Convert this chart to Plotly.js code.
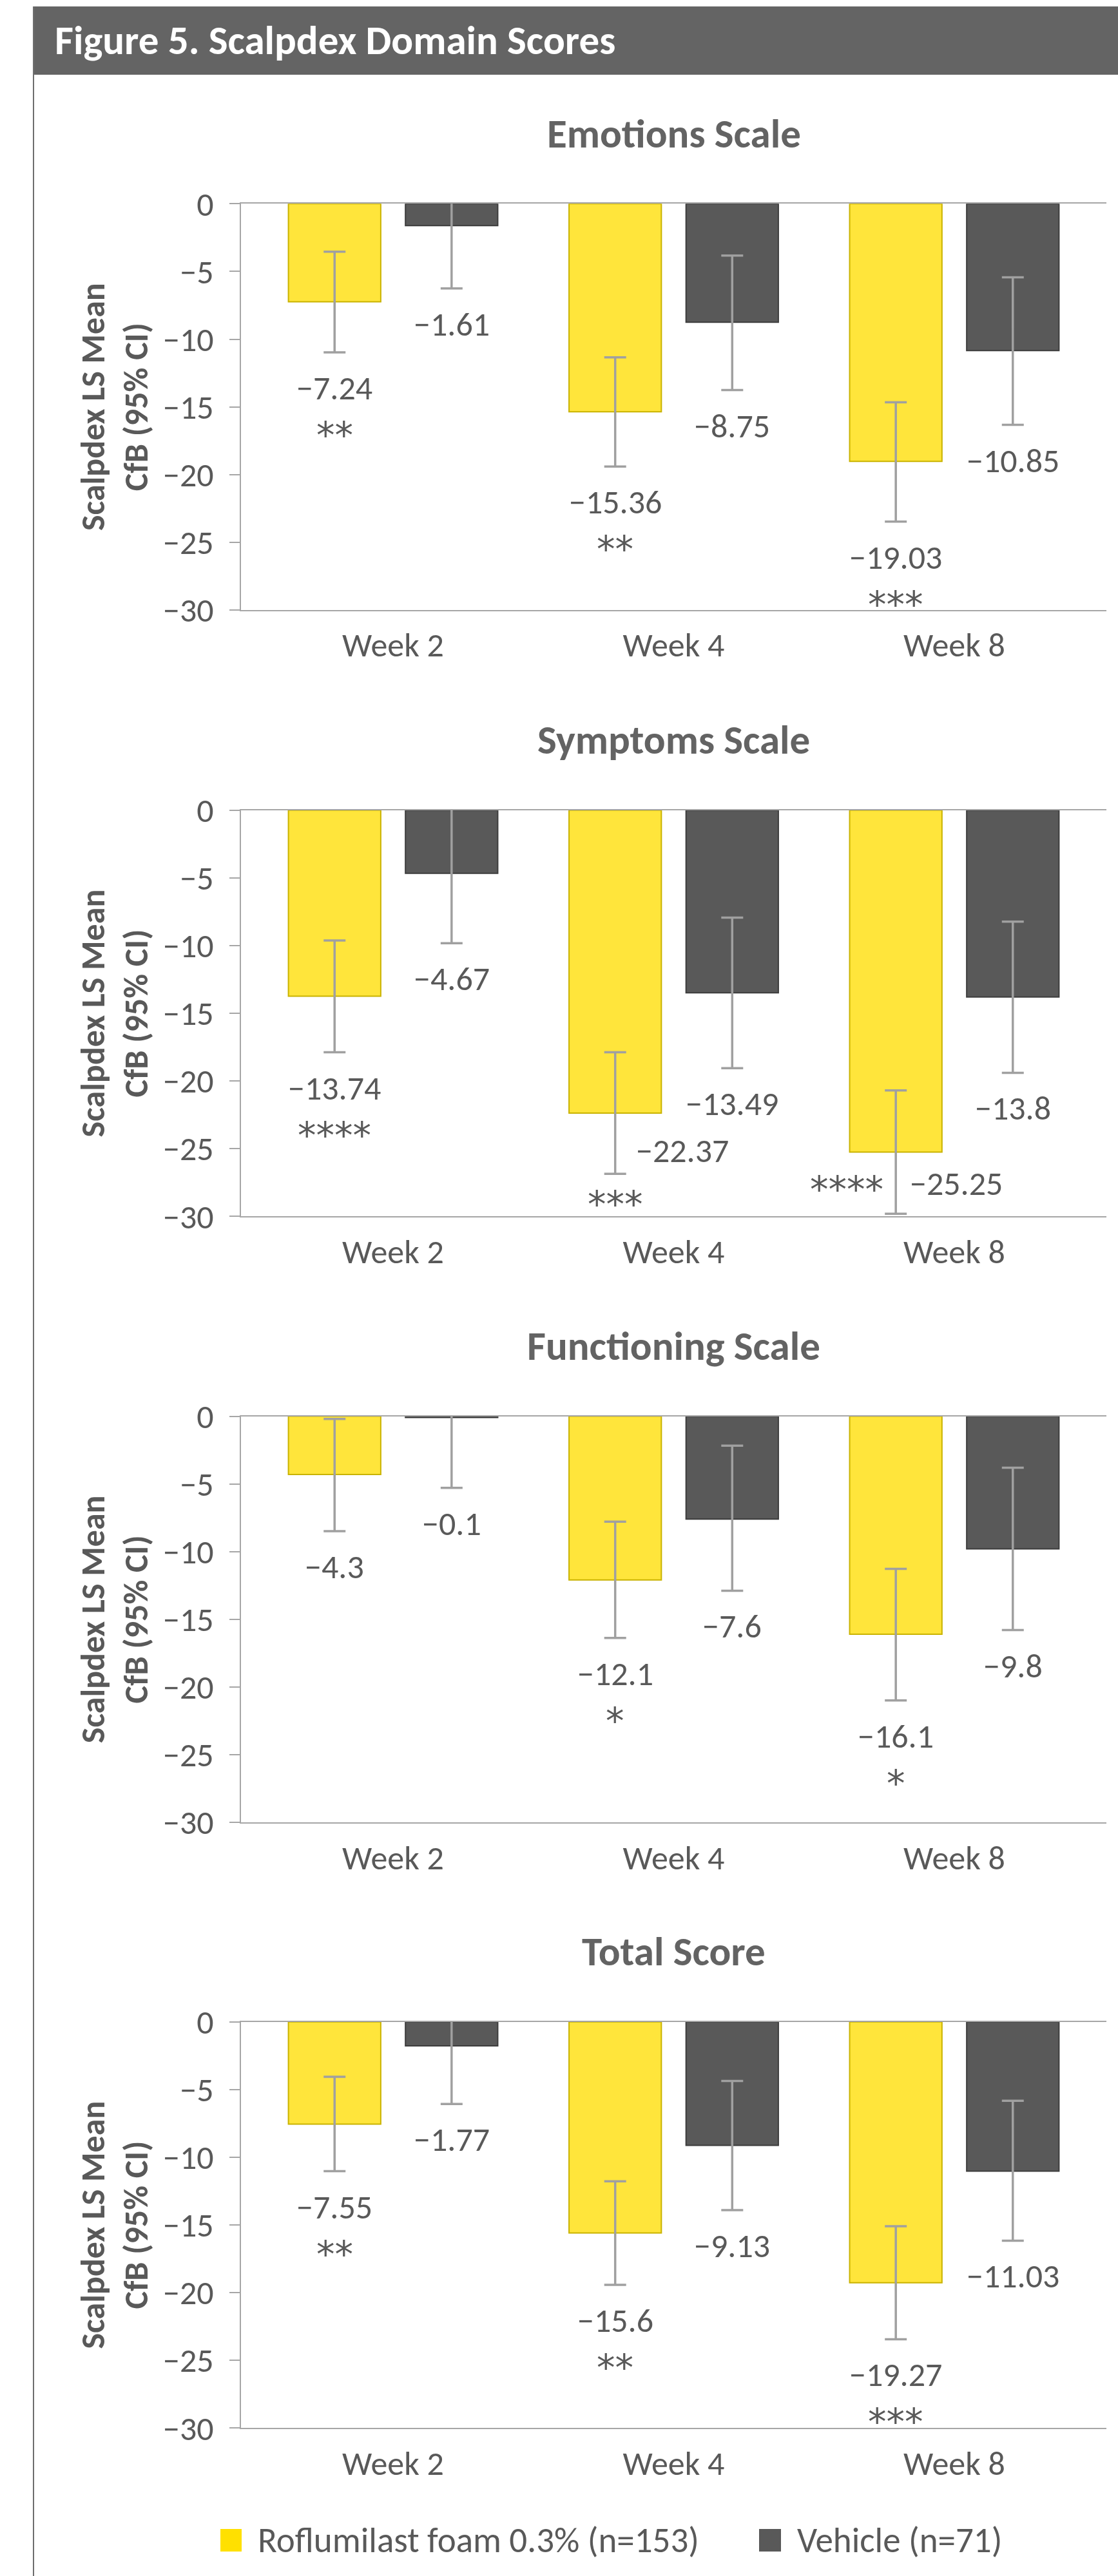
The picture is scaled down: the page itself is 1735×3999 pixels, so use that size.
<!DOCTYPE html>
<html>
<head>
<meta charset="utf-8">
<script src="https://cdn.plot.ly/plotly-3.0.1.min.js"></script>
<style>
  html, body { margin: 0; padding: 0; background: #ffffff; }
  #chart { width: 1735px; height: 3999px; }
</style>
</head>
<body>
<div id="chart"></div>
<script>
// ---------------- DATA ----------------
const categories = ['Week 2', 'Week 4', 'Week 8'];
const panelTitles = ['Emotions Scale', 'Symptoms Scale', 'Functioning Scale', 'Total Score'];
const seriesNames = ['Roflumilast foam 0.3% (n=153)', 'Vehicle (n=71)'];
const yTicks = [0, -5, -10, -15, -20, -25, -30];

// Emotions
const emotionsRof   = [-7.24, -15.36, -19.03];
const emotionsRofLo = [-10.97, -19.41, -23.48];
const emotionsRofHi = [-3.54, -11.34, -14.66];
const emotionsVeh   = [-1.61, -8.75, -10.85];
const emotionsVehLo = [-6.25, -13.76, -16.33];
const emotionsVehHi = [3.03, -3.83, -5.43];
const emotionsStars = ['**', '**', '***'];

// Symptoms
const symptomsRof   = [-13.74, -22.37, -25.25];
const symptomsRofLo = [-17.88, -26.86, -29.81];
const symptomsRofHi = [-9.63, -17.88, -20.70];
const symptomsVeh   = [-4.67, -13.49, -13.8];
const symptomsVehLo = [-9.83, -19.06, -19.40];
const symptomsVehHi = [0.49, -7.94, -8.23];
const symptomsStars = ['****', '***', '****'];

// Functioning
const functioningRof   = [-4.3, -12.1, -16.1];
const functioningRofLo = [-8.49, -16.38, -20.99];
const functioningRofHi = [-0.20, -7.79, -11.28];
const functioningVeh   = [-0.1, -7.6, -9.8];
const functioningVehLo = [-5.29, -12.89, -15.80];
const functioningVehHi = [5.09, -2.18, -3.81];
const functioningStars = ['', '*', '*'];

// Total
const totalRof   = [-7.55, -15.6, -19.27];
const totalRofLo = [-11.03, -19.43, -23.44];
const totalRofHi = [-4.06, -11.78, -15.09];
const totalVeh   = [-1.77, -9.13, -11.03];
const totalVehLo = [-6.07, -13.90, -16.16];
const totalVehHi = [2.53, -4.37, -5.83];
const totalStars = ['**', '**', '***'];

// ---------------- STYLE / LAYOUT CONSTANTS ----------------
const W = 1735, H = 3999;
const FONT = 'Carlito, Calibri, Lato, sans-serif';
const STAR_FONT = '"DejaVu Sans", Lato, sans-serif';
const TEXT = '#595959';
const AXIS = '#A6A6A6';
const YELLOW = '#FFE53B', YELLOW_EDGE = '#C9B300';
const GREY = '#595959', GREY_EDGE = '#3D3D3D';
const ERR = '#A0A0A0';
const PLOT_LEFT = 374, PLOT_RIGHT = 1717;
const PLOT_TOPS = [316.3, 1257.7, 2198.5, 3138.7];
const PLOT_H = 630.6;
const BARGAP = 0.166, BARGROUPGAP = 0.211;
const HALF_SLOT = (1 - BARGAP) / 4;
const LABEL_DY = -55, STAR_DY = -128;
const STAR_SIZE = 57;

const px = v => v / W;
const py = v => 1 - v / H;
const fmt = v => (v < 0 ? '\u2212' : '') + Math.abs(v);

const panels = [
  {rof: emotionsRof, rofLo: emotionsRofLo, rofHi: emotionsRofHi, veh: emotionsVeh, vehLo: emotionsVehLo, vehHi: emotionsVehHi, stars: emotionsStars},
  {rof: symptomsRof, rofLo: symptomsRofLo, rofHi: symptomsRofHi, veh: symptomsVeh, vehLo: symptomsVehLo, vehHi: symptomsVehHi, stars: symptomsStars},
  {rof: functioningRof, rofLo: functioningRofLo, rofHi: functioningRofHi, veh: functioningVeh, vehLo: functioningVehLo, vehHi: functioningVehHi, stars: functioningStars},
  {rof: totalRof, rofLo: totalRofLo, rofHi: totalRofHi, veh: totalVeh, vehLo: totalVehLo, vehHi: totalVehHi, stars: totalStars}
];

// label placement overrides (panel, index) -> pixel offsets
const rofLabelOverrides = {
  '1-1': {value: {xanchor: 'left', xshift: 30, yshift: 36}, stars: {xanchor: 'center', xshift: 0, yshift: -47}},
  '1-2': {value: {xanchor: 'left', xshift: 20, yshift: 47}, stars: {xanchor: 'right', xshift: -17, yshift: 38}}
};

const xIdx = categories.map((c, i) => i);
const traces = [];
const annotations = [];
const shapes = [];
const layout = {
  width: W, height: H,
  margin: {l: 0, r: 0, t: 0, b: 0},
  paper_bgcolor: '#ffffff', plot_bgcolor: '#ffffff',
  showlegend: false,
  barmode: 'group', bargap: BARGAP, bargroupgap: BARGROUPGAP,
  font: {family: FONT, color: TEXT, size: 52}
};

panels.forEach((p, k) => {
  const n = k + 1;
  const xa = n === 1 ? 'x' : 'x' + n;
  const ya = n === 1 ? 'y' : 'y' + n;
  const top = PLOT_TOPS[k], bot = top + PLOT_H;

  traces.push({
    type: 'bar', name: seriesNames[0], x: xIdx, y: p.rof, xaxis: xa, yaxis: ya,
    marker: {color: YELLOW, line: {color: YELLOW_EDGE, width: 2}},
    error_y: {type: 'data', symmetric: false,
      array: p.rofHi.map((h, i) => h - p.rof[i]),
      arrayminus: p.rofLo.map((l, i) => p.rof[i] - l),
      color: ERR, thickness: 3.5, width: 17},
    hoverinfo: 'skip'
  });
  traces.push({
    type: 'bar', name: seriesNames[1], x: xIdx, y: p.veh, xaxis: xa, yaxis: ya,
    marker: {color: GREY, line: {color: GREY_EDGE, width: 2}},
    error_y: {type: 'data', symmetric: false,
      array: p.vehHi.map((h, i) => h - p.veh[i]),
      arrayminus: p.vehLo.map((l, i) => p.veh[i] - l),
      color: ERR, thickness: 3.5, width: 17},
    hoverinfo: 'skip'
  });

  layout['xaxis' + (n === 1 ? '' : n)] = {
    domain: [px(PLOT_LEFT), px(PLOT_RIGHT)], anchor: ya,
    range: [-0.542, 2.542], tickvals: xIdx, ticktext: categories,
    showline: true, mirror: true, linecolor: AXIS, linewidth: 2,
    ticks: '', showgrid: false, zeroline: false, fixedrange: true,
    tickfont: {family: FONT, size: 52, color: TEXT}, ticklabelstandoff: 8
  };
  layout['yaxis' + (n === 1 ? '' : n)] = {
    domain: [py(bot), py(top)], anchor: xa,
    range: [-30, 0], tickvals: yTicks,
    showline: true, linecolor: AXIS, linewidth: 2,
    ticks: 'outside', ticklen: 16, tickwidth: 2, tickcolor: AXIS,
    showgrid: false, zeroline: false, fixedrange: true,
    tickfont: {family: FONT, size: 52, color: TEXT}, ticklabelstandoff: 14
  };

  // panel title
  annotations.push({
    xref: 'paper', yref: 'paper', x: px((PLOT_LEFT + PLOT_RIGHT) / 2), y: py(top - 109),
    xanchor: 'center', yanchor: 'middle', showarrow: false,
    text: '<b>' + panelTitles[k] + '</b>', font: {family: FONT, size: 63, color: '#636363'}
  });
  // y axis title
  annotations.push({
    xref: 'paper', yref: 'paper', x: px(177.5), y: py(top + PLOT_H / 2),
    xanchor: 'center', yanchor: 'middle', showarrow: false, textangle: -90,
    text: '<b>Scalpdex LS Mean<br>CfB (95% CI)</b>', font: {family: FONT, size: 52, color: TEXT}
  });

  // data labels
  xIdx.forEach(i => {
    const ov = rofLabelOverrides[k + '-' + i];
    const rv = ov ? ov.value : {xanchor: 'center', xshift: 0, yshift: LABEL_DY};
    annotations.push({
      xref: xa, yref: ya, x: i - HALF_SLOT, y: p.rofLo[i], showarrow: false,
      xanchor: rv.xanchor, yanchor: 'middle', xshift: rv.xshift, yshift: rv.yshift,
      text: fmt(p.rof[i]), font: {family: FONT, size: 52, color: TEXT}
    });
    if (p.stars[i]) {
      const sv = ov ? ov.stars : {xanchor: 'center', xshift: 0, yshift: STAR_DY};
      annotations.push({
        xref: xa, yref: ya, x: i - HALF_SLOT, y: p.rofLo[i], showarrow: false,
        xanchor: sv.xanchor, yanchor: 'middle', xshift: sv.xshift, yshift: sv.yshift,
        text: p.stars[i], font: {family: STAR_FONT, size: STAR_SIZE, color: TEXT}
      });
    }
    annotations.push({
      xref: xa, yref: ya, x: i + HALF_SLOT, y: p.vehLo[i], showarrow: false,
      xanchor: 'center', yanchor: 'middle', yshift: LABEL_DY,
      text: fmt(p.veh[i]), font: {family: FONT, size: 52, color: TEXT}
    });
  });
});

// header band and frame
shapes.push({type: 'rect', xref: 'paper', yref: 'paper', x0: px(52), x1: px(1735), y0: py(116), y1: py(10),
  fillcolor: '#646464', line: {width: 0}, layer: 'below'});
shapes.push({type: 'line', xref: 'paper', yref: 'paper', x0: px(52), x1: px(52), y0: py(10), y1: 0,
  line: {color: '#6E6E6E', width: 2}});
annotations.push({
  xref: 'paper', yref: 'paper', x: px(83), y: py(63), xanchor: 'left', yanchor: 'middle', showarrow: false,
  text: '<b>Figure 5. Scalpdex Domain Scores</b>', font: {family: FONT, size: 63, color: '#ffffff'}
});

// legend
const legendItems = [
  {name: seriesNames[0], color: '#FFE000', x0: 342, x1: 375, tx: 398},
  {name: seriesNames[1], color: GREY, x0: 1178, x1: 1212, tx: 1235}
];
legendItems.forEach(it => {
  shapes.push({type: 'rect', xref: 'paper', yref: 'paper', x0: px(it.x0), x1: px(it.x1), y0: py(3961), y1: py(3926),
    fillcolor: it.color, line: {width: 0}});
  annotations.push({xref: 'paper', yref: 'paper', x: px(it.tx), y: py(3943.5), xanchor: 'left', yanchor: 'middle',
    showarrow: false, text: it.name, font: {family: FONT, size: 55, color: TEXT}});
});

layout.annotations = annotations;
layout.shapes = shapes;

Plotly.newPlot('chart', traces, layout, {displayModeBar: false, staticPlot: true});
</script>
</body>
</html>
